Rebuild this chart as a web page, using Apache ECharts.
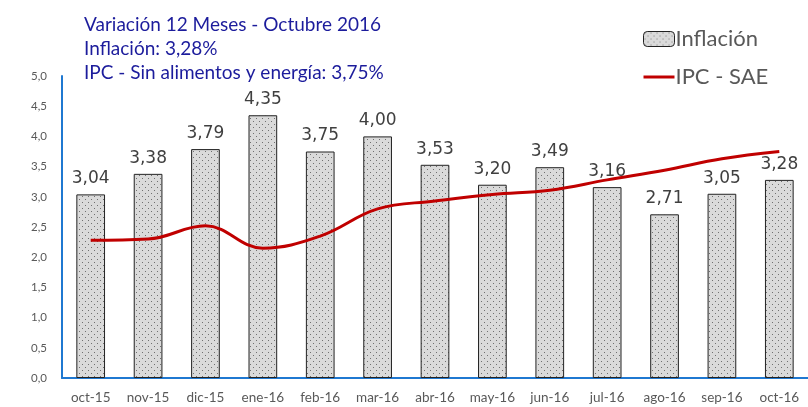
<!DOCTYPE html>
<html>
<head>
<meta charset="utf-8">
<script src="https://cdn.jsdelivr.net/npm/echarts@6/dist/echarts.min.js"></script>
<style>
  html, body { margin: 0; padding: 0; background: #fff; }
  #chart { width: 808px; height: 407px; }
</style>
</head>
<body>
<div id="chart"></div>
<script>
// meses
const months = ['oct-15', 'nov-15', 'dic-15', 'ene-16', 'feb-16', 'mar-16', 'abr-16',
  'may-16', 'jun-16', 'jul-16', 'ago-16', 'sep-16', 'oct-16'];
// inflación 12 meses (barras)
const inflacion = [3.04, 3.38, 3.79, 4.35, 3.75, 4.00, 3.53, 3.20, 3.49, 3.16, 2.71, 3.05, 3.28];
// IPC sin alimentos y energía (línea)
const ipcSae = [2.28, 2.30, 2.52, 2.15, 2.35, 2.80, 2.93, 3.04, 3.11, 3.28, 3.44, 3.63, 3.75];

const FONT = 'Lato, "Open Sans", sans-serif';

// patrón punteado de las barras
function dotPattern() {
  const c = document.createElement('canvas');
  c.width = 6; c.height = 6;
  const ctx = c.getContext('2d');
  ctx.fillStyle = '#dadada';
  ctx.fillRect(0, 0, 6, 6);
  ctx.fillStyle = '#707070';
  ctx.fillRect(1, 1, 1, 1);
  ctx.fillRect(4, 4, 1, 1);
  return c;
}
const pattern = { image: dotPattern(), repeat: 'repeat' };

const fmt = v => v.toFixed(2).replace('.', ',');

let chart = echarts.init(document.getElementById('chart'));

let option = {
  animation: false,
  title: {
    text: 'Variación 12 Meses - Octubre 2016\nInflación: 3,28%\nIPC - Sin alimentos y energía: 3,75%',
    left: 79,
    top: 8,
    textStyle: {
      color: '#1c1c9c',
      fontFamily: FONT,
      fontSize: 19,
      fontWeight: 'normal',
      lineHeight: 24
    }
  },
  legend: {
    orient: 'vertical',
    left: 637,
    top: 23,
    itemWidth: 31,
    itemHeight: 15,
    itemGap: 16,
    textStyle: { color: '#595959', fontFamily: FONT, fontSize: 22, padding: [0, 0, 0, -4] },
    data: [
      { name: 'Inflación', itemStyle: { color: pattern, borderColor: '#222', borderWidth: 1 } },
      { name: 'IPC - SAE', itemStyle: { opacity: 0 }, lineStyle: { color: '#c00000', width: 3 } }
    ]
  },
  grid: { left: 62, right: -5, top: 76, bottom: 29 },
  xAxis: {
    type: 'category',
    data: months,
    axisLine: { lineStyle: { color: '#1f78d1', width: 2 } },
    axisTick: { show: false },
    axisLabel: { color: '#595959', fontFamily: FONT, fontSize: 13.5, margin: 13, interval: 0 }
  },
  yAxis: {
    type: 'value',
    min: 0,
    max: 5,
    interval: 0.5,
    axisLine: { show: true, lineStyle: { color: '#1f78d1', width: 2 } },
    axisTick: { show: false },
    splitLine: { show: false },
    axisLabel: {
      color: '#595959', fontFamily: FONT, fontSize: 11.5, margin: 15,
      formatter: v => v.toFixed(1).replace('.', ',')
    }
  },
  series: [
    {
      name: 'Inflación',
      type: 'bar',
      data: inflacion,
      barWidth: '50%',
      itemStyle: { color: pattern, borderColor: '#222', borderWidth: 1 },
      label: {
        show: true,
        position: 'top',
        distance: 7,
        color: '#404040',
        fontFamily: '"DejaVu Sans", sans-serif',
        fontSize: 17,
        formatter: p => fmt(p.value)
      }
    },
    {
      name: 'IPC - SAE',
      type: 'line',
      data: ipcSae,
      smooth: 0.4,
      symbol: 'none',
      lineStyle: { color: '#c00000', width: 3 },
      itemStyle: { color: '#c00000' }
    }
  ]
};

chart.setOption(option);
</script>
</body>
</html>
